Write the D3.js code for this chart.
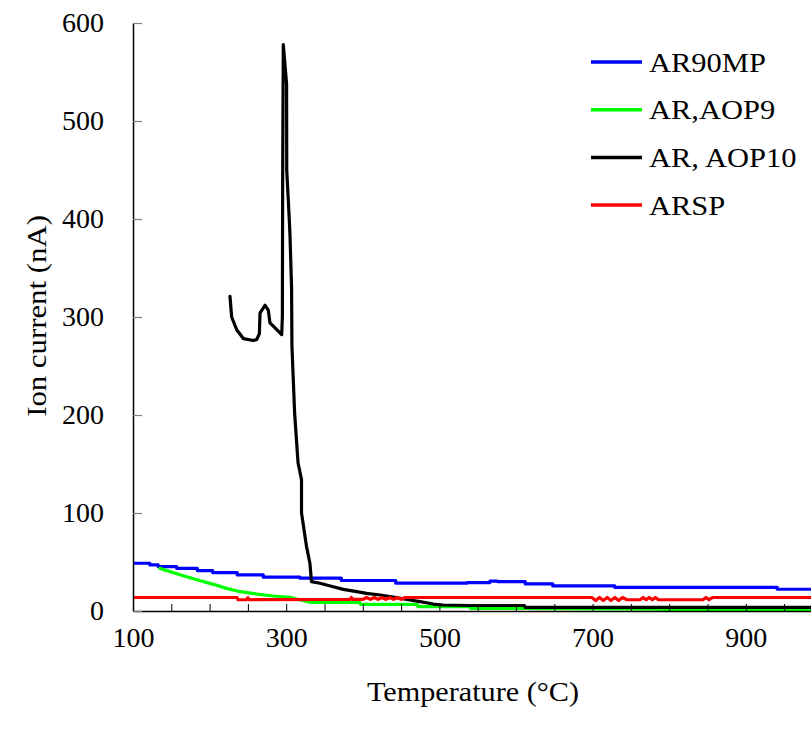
<!DOCTYPE html>
<html>
<head>
<meta charset="utf-8">
<script src="https://cdn.jsdelivr.net/npm/d3@7/dist/d3.min.js"></script>
<style>
  html, body { margin: 0; padding: 0; background: #fff; }
  svg { display: block; }
  text { font-family: "Liberation Serif", "Times New Roman", serif; fill: #000; }
</style>
</head>
<body>
<svg id="chart" width="811" height="735"></svg>
<script>
// Ion current vs temperature, four samples
const seriesNames = ["AR90MP", "AR,AOP9", "AR, AOP10", "ARSP"];
const seriesColors = ["#0000ff", "#00ff00", "#000000", "#ff0000"];

// AR90MP (stepwise slow decline; each value holds until the next temperature)
const blueT = [100, 122, 133, 157, 184, 204, 236, 270, 318, 372, 443, 536, 566, 576, 612, 648, 729, 941, 1000];
const blueV = [48.7, 47, 45.2, 43.5, 41.2, 39.2, 36.9, 34.5, 33.5, 31.1, 28.4, 29, 30.5, 30, 27.6, 25.6, 24.2, 22.2, 22.2];

// AR,AOP9
const greenT = [135, 153, 170, 188, 205, 222, 240, 262, 283, 305, 320, 331, 396, 397, 471, 472, 540, 541, 612, 792, 793, 1000];
const greenV = [43.5, 39, 35, 30.9, 27.2, 23.1, 19.7, 17.3, 15.3, 14, 11, 8.9, 8.9, 6.8, 6.8, 4.4, 4.4, 2.7, 2.7, 2.0, 0.3, 0.3];

// AR, AOP10 (hook, sharp peak near 300 °C, then decay)
const blackT = [226.6, 228.8, 235.4, 244, 257, 261.5, 265, 265.8, 272.3, 276.6, 278.8, 285.4, 294.1, 295, 295.4, 296.2,
                300.5, 300.7, 304, 305, 307, 307.5, 311, 315.5, 320, 320, 326.5, 330.9, 333, 344, 361.5, 374.5,
                392, 405, 422.5, 444, 461.6, 474.7, 492, 505, 540, 611, 612, 1000];
const blackV = [321, 300, 287, 278, 276, 277, 283, 304, 312, 307, 294, 289, 282, 300, 443, 578,
                538, 450, 400, 382, 330, 270, 202, 151, 134, 100, 66, 49, 30, 28.3, 24.8, 22.1,
                19.7, 18, 16.3, 13.6, 11.2, 9.5, 7.1, 6.1, 5.6, 5.6, 3.7, 3.7];

// ARSP (nearly flat with small ripples)
const redT = [100, 236, 237, 248, 250, 252, 383, 385, 387, 400, 405, 410, 415, 420, 425, 430, 435, 440, 445, 450, 455, 462,
              699, 704, 709, 714, 719, 724, 729, 734, 739, 745, 762, 766, 770, 774, 778, 782, 786, 792, 844, 848, 852, 857, 1000];
const redV = [13.8, 13.8, 11.5, 11.5, 13.5, 11.5, 11.8, 13.8, 11.8, 11.8, 13.8, 11.8, 13.8, 11.8, 13.8, 11.8, 13.8, 11.8, 13.8, 11.8, 13.8, 13.8,
              13.8, 10.8, 13.8, 10.8, 13.8, 10.8, 13.8, 10.8, 13.8, 11.5, 11.5, 13.8, 11.5, 13.8, 11.5, 13.8, 11.5, 11.5, 11.5, 13.8, 11.5, 13.8, 13.8];

const xTicks = d3.range(100, 1001, 50);
const xLabelTicks = [100, 300, 500, 700, 900];
const yTicks = [0, 100, 200, 300, 400, 500, 600];

const series = [
  { name: seriesNames[0], color: seriesColors[0], t: blueT, v: blueV, curve: d3.curveStepAfter },
  { name: seriesNames[1], color: seriesColors[1], t: greenT, v: greenV, curve: d3.curveLinear },
  { name: seriesNames[2], color: seriesColors[2], t: blackT, v: blackV, curve: d3.curveLinear },
  { name: seriesNames[3], color: seriesColors[3], t: redT, v: redV, curve: d3.curveLinear }
];

const svg = d3.select("#chart");
const x = d3.scaleLinear().domain([100, 1000]).range([133, 822.4]);
const y = d3.scaleLinear().domain([0, 600]).range([611, 23]);

// plot area clip
svg.append("defs").append("clipPath").attr("id", "plotclip")
  .append("rect").attr("x", 133).attr("y", 0).attr("width", 700).attr("height", 612);

const lines = svg.append("g").attr("clip-path", "url(#plotclip)");
series.forEach(s => {
  const line = d3.line().x(d => x(d[0])).y(d => y(d[1])).curve(s.curve);
  lines.append("path")
    .datum(s.t.map((t, i) => [t, s.v[i]]))
    .attr("d", line)
    .attr("fill", "none")
    .attr("stroke", s.color)
    .attr("stroke-width", 3.2)
    .attr("stroke-linejoin", "round")
    .attr("stroke-linecap", "round");
});

// x axis
const xAxis = d3.axisBottom(x)
  .tickValues(xTicks)
  .tickFormat(d => xLabelTicks.includes(d) ? d : "")
  .tickSizeInner(-7).tickSizeOuter(0).tickPadding(16);
const gx = svg.append("g").attr("transform", "translate(0,611)").call(xAxis);
gx.select(".domain").attr("stroke", "#000").attr("stroke-width", 1.5);
gx.selectAll(".tick line").attr("stroke", "#000").attr("stroke-width", 1);
gx.selectAll(".tick text").attr("font-size", 28).attr("font-family", "Liberation Serif, serif");

// y axis
const yAxis = d3.axisLeft(y)
  .tickValues(yTicks)
  .tickSizeInner(-9).tickSizeOuter(0).tickPadding(29);
const gy = svg.append("g").attr("transform", "translate(133,0)").call(yAxis);
gy.select(".domain").attr("stroke", "#000").attr("stroke-width", 1.5);
gy.selectAll(".tick line").attr("stroke", "#808080").attr("stroke-width", 1.2);
gy.selectAll(".tick text").attr("font-size", 28).attr("font-family", "Liberation Serif, serif");

// axis titles
svg.append("text")
  .attr("transform", "translate(473,701) scale(1.08,1)")
  .attr("text-anchor", "middle")
  .attr("font-size", 28)
  .text("Temperature (°C)");
svg.append("text")
  .attr("transform", "translate(46,316) rotate(-90) scale(1.1,1)")
  .attr("text-anchor", "middle")
  .attr("font-size", 28)
  .text("Ion current (nA)");

// legend
const legend = svg.append("g");
series.forEach((s, i) => {
  const ly = 62 + i * 47.7;
  legend.append("line")
    .attr("x1", 591).attr("x2", 642).attr("y1", ly).attr("y2", ly)
    .attr("stroke", s.color).attr("stroke-width", 3.5);
  legend.append("text")
    .attr("transform", `translate(649,${ly + 9.5}) scale(1.13,1)`)
    .attr("font-size", 27)
    .text(s.name);
});
</script>
</body>
</html>
